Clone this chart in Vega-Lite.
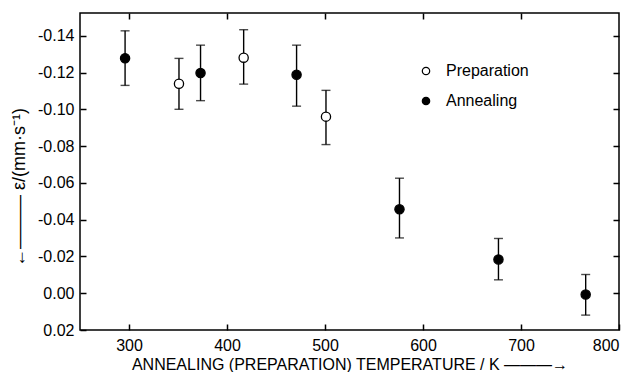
{
  "$schema": "https://vega.github.io/schema/vega-lite/v6.json",
  "padding": {"left": 10, "top": 12, "right": 16, "bottom": 0},
  "width": 539,
  "height": 317,
  "background": "white",
  "config": {
    "view": {"stroke": "black", "strokeWidth": 1.5}
  },
  "data": {
    "values": [
      {"T": 296, "eps": -0.1279, "lo": -0.1131, "hi": -0.1428, "type": "Annealing"},
      {"T": 351, "eps": -0.1140, "lo": -0.1001, "hi": -0.1278, "type": "Preparation"},
      {"T": 373, "eps": -0.1198, "lo": -0.1048, "hi": -0.1350, "type": "Annealing"},
      {"T": 417, "eps": -0.1282, "lo": -0.1138, "hi": -0.1434, "type": "Preparation"},
      {"T": 471, "eps": -0.1189, "lo": -0.1018, "hi": -0.1350, "type": "Annealing"},
      {"T": 501, "eps": -0.0961, "lo": -0.0809, "hi": -0.1104, "type": "Preparation"},
      {"T": 576, "eps": -0.0457, "lo": -0.0301, "hi": -0.0626, "type": "Annealing"},
      {"T": 677, "eps": -0.0184, "lo": -0.0073, "hi": -0.0298, "type": "Annealing"},
      {"T": 766, "eps": 0.0007, "lo": 0.0119, "hi": -0.0102, "type": "Annealing"}
    ]
  },
  "layer": [
    {
      "mark": {"type": "errorbar", "ticks": {"size": 9, "thickness": 1.4, "color": "black"}, "rule": {"strokeWidth": 1.4, "color": "black"}},
      "encoding": {
        "x": {
          "field": "T", "type": "quantitative",
          "scale": {"domain": [250, 800], "nice": false, "zero": false},
          "axis": {
            "orient": "bottom",
            "values": [300, 400, 500, 600, 700, 800],
            "tickSize": 6, "tickColor": "black", "tickWidth": 1.5, "offset": -6,
            "domainOpacity": 0, "gridOpacity": 0,
            "labelFont": "Liberation Sans", "labelFontSize": 16, "labelColor": "black",
            "labelPadding": 7,
            "format": "d",
            "title": "ANNEALING (PREPARATION) TEMPERATURE / K ———→",
            "titleFont": "Liberation Sans", "titleFontSize": 16, "titleFontWeight": "normal", "titleColor": "black",
            "titlePadding": 3
          }
        },
        "y": {
          "field": "lo", "type": "quantitative",
          "scale": {"domain": [0.02, -0.1525], "nice": false, "zero": false},
          "axis": {
            "orient": "left",
            "values": [-0.14, -0.12, -0.1, -0.08, -0.06, -0.04, -0.02, 0, 0.02],
            "tickSize": 6, "tickColor": "black", "tickWidth": 1.5, "offset": -6,
            "domainOpacity": 0, "gridOpacity": 0,
            "labelFont": "Liberation Sans", "labelFontSize": 16, "labelColor": "black",
            "labelPadding": 6,
            "labelExpr": "replace(format(datum.value, '.2f'), '\u2212', '-')",
            "title": "\u2190———  \u03b5/(mm\u00b7s\u207b\u00b9)",
            "titleFont": "Liberation Sans", "titleFontSize": 18, "titleFontWeight": "normal", "titleColor": "black",
            "titleAngle": -90,
            "titleX": -67,
            "titleY": 174,
            "titleAlign": "center",
            "titleBaseline": "middle"
          }
        },
        "y2": {"field": "hi"}
      }
    },
    {
      "mark": {"type": "point", "shape": "circle", "filled": true, "size": 85, "stroke": "black", "strokeWidth": 1.3, "opacity": 1},
      "encoding": {
        "x": {
          "field": "T", "type": "quantitative",
          "axis": {"orient": "top", "values": [300, 400, 500, 600, 700], "tickSize": 6, "tickColor": "black", "tickWidth": 1.5, "offset": -6, "domainOpacity": 0, "gridOpacity": 0, "labels": false, "title": null}
        },
        "y": {
          "field": "eps", "type": "quantitative",
          "axis": {"orient": "right", "values": [-0.14, -0.12, -0.1, -0.08, -0.06, -0.04, -0.02, 0], "tickSize": 6, "tickColor": "black", "tickWidth": 1.5, "offset": -6, "domainOpacity": 0, "gridOpacity": 0, "labels": false, "title": null}
        },
        "fill": {
          "field": "type", "type": "nominal",
          "scale": {"domain": ["Preparation", "Annealing"], "range": ["white", "black"]},
          "legend": {
            "title": null,
            "orient": "none",
            "legendX": 338,
            "legendY": 50,
            "symbolType": "circle",
            "symbolSize": 55,
            "symbolStrokeColor": "black",
            "symbolStrokeWidth": 1.2,
            "symbolOpacity": 1,
            "labelFont": "Liberation Sans",
            "labelFontSize": 16,
            "labelColor": "black",
            "labelOffset": 12,
            "rowPadding": 14
          }
        }
      }
    }
  ],
  "resolve": {"axis": {"x": "independent", "y": "independent"}}
}
